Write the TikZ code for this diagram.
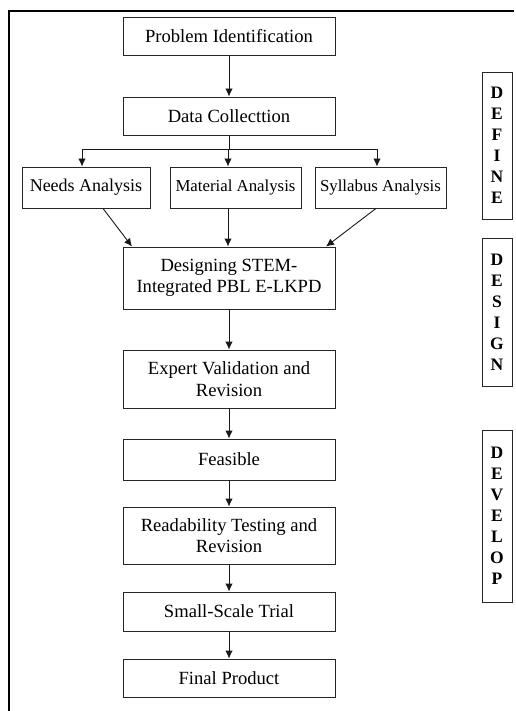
\documentclass[tikz,border=0pt]{standalone}
\usepackage{fontspec}
\setmainfont{Liberation Serif}
\usetikzlibrary{arrows.meta}
\begin{document}
\begin{tikzpicture}[x=1pt,y=-1pt,
  box/.style={draw=black!85, line width=0.9pt, rectangle, inner sep=0pt,
    align=center, font=\fontsize{18.6}{21.5}\selectfont},
  smallbox/.style={box, font=\fontsize{16.8}{20}\selectfont},
  phase/.style={draw=black!85, line width=0.9pt, rectangle, inner sep=0pt,
    minimum width=30pt, align=center, font=\fontsize{17.5}{21}\selectfont\bfseries},
  arr/.style={draw=black!90, line width=0.9pt, -{Latex[length=8pt,width=7.5pt]}},
  ln/.style={draw=black!90, line width=0.9pt}]
\useasboundingbox (0,0) rectangle (515,711);
\draw[line width=1.2pt] (9,711) -- (9,11) -- (514,11);

\node[box, minimum width=212pt, minimum height=38pt] (pi) at (229,36) {Problem Identification};
\node[box, minimum width=212pt, minimum height=38pt] (dc) at (229,116) {Data Collecttion};
\node[box, font=\fontsize{18}{21}\selectfont, minimum width=128pt, minimum height=41pt] (na) at (86,187.5) {Needs Analysis};
\node[smallbox, minimum width=131pt, minimum height=41pt] (ma) at (235.5,187.5) {Material Analysis};
\node[smallbox, minimum width=131pt, minimum height=41pt] (sa) at (380.5,187.5) {Syllabus Analysis};
\node[box, minimum width=212pt, minimum height=62pt] (ds) at (229,278) {Designing STEM-\\Integrated PBL E-LKPD};
\node[box, minimum width=212pt, minimum height=58pt] (ev) at (229,379) {Expert Validation and\\Revision};
\node[box, minimum width=212pt, minimum height=41pt] (fe) at (229,459.5) {Feasible};
\node[box, minimum width=212pt, minimum height=57pt] (rt) at (229,535.5) {Readability Testing and\\Revision};
\node[box, minimum width=212pt, minimum height=39pt] (ss) at (229,611.5) {Small-Scale Trial};
\node[box, minimum width=212pt, minimum height=38pt] (fp) at (229,678) {Final Product};

\node[phase, minimum height=147pt] (define) at (497,145.5) {D\\E\\F\\I\\N\\E};
\node[phase, minimum height=148pt] (design) at (497,312) {D\\E\\S\\I\\G\\N};
\node[phase, minimum height=172pt] (develop) at (497,516) {D\\E\\V\\E\\L\\O\\P};

\draw[arr] (pi) -- (dc);
\coordinate (br) at (229,149);
\coordinate (bl) at (82,149);
\coordinate (bm) at (228,149);
\coordinate (bR) at (377,149);
\draw[ln] (dc.south) -- (br);
\draw[ln] (bl) -- (bR);
\draw[arr] (bl) -- (bl |- na.north);
\draw[arr] (bm) -- (bm |- ma.north);
\draw[arr] (bR) -- (bR |- sa.north);

\coordinate (nas) at (na.south -| 103,0);
\coordinate (mas) at (ma.south -| 228,0);
\coordinate (sas) at (sa.south -| 376,0);
\coordinate (dl) at (ds.north -| 132,0);
\coordinate (dm) at (ds.north -| 228,0);
\coordinate (dr) at (ds.north -| 326,0);
\draw[arr] (nas) -- (dl);
\draw[arr] (mas) -- (dm);
\draw[arr] (sas) -- (dr);

\draw[arr] (ds) -- (ev);
\draw[arr] (ev) -- (fe);
\draw[arr] (fe) -- (rt);
\draw[arr] (rt) -- (ss);
\draw[arr] (ss) -- (fp);
\end{tikzpicture}
\end{document}
